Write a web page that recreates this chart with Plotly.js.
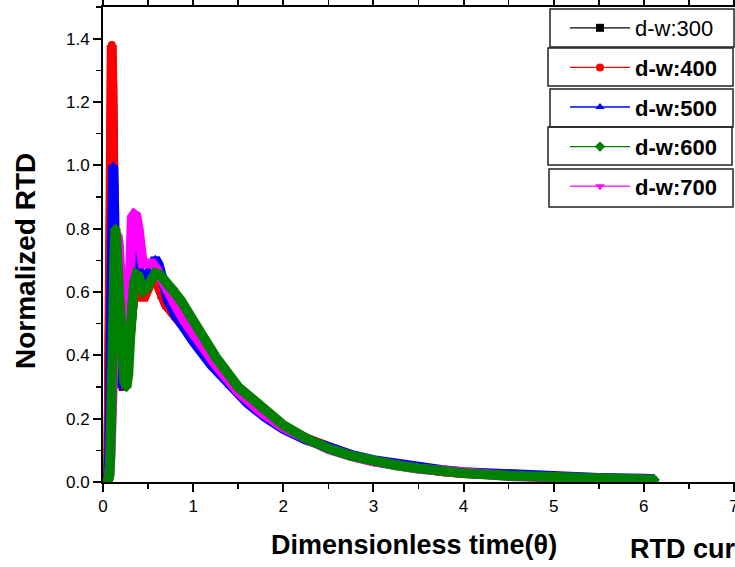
<!DOCTYPE html>
<html>
<head>
<meta charset="utf-8">
<script src="https://cdn.plot.ly/plotly-3.0.1.min.js"></script>
<style>
html,body{margin:0;padding:0;overflow:hidden;background:#fff;}
#chart{width:800px;height:567px;}
</style>
</head>
<body>
<div id="chart"></div>
<script>
// ---- data ----
const seriesNames = ["d-w:300", "d-w:400", "d-w:500", "d-w:600", "d-w:700"];

const theta300 = [0.03,0.05,0.06,0.066,0.072,0.077,0.082,0.086,0.09,0.094,0.098,0.102,0.106,0.11,0.115,0.121,0.128,0.138,0.155,0.185,0.22,0.25,0.28,0.31,0.34,0.37,0.4,0.43,0.46,0.5,0.55,0.6,0.65,0.7,0.8,0.9,1.0,1.2,1.4,1.6,1.8,2.0,2.25,2.5,2.75,3.0,3.25,3.5,3.75,4.0,4.5,5.0,5.5,6.0,6.1];
const rtd300   = [0,0.01,0.05,0.14,0.28,0.43,0.6,0.76,0.92,1.06,1.18,1.26,1.24,1.12,0.96,0.8,0.66,0.52,0.4,0.32,0.3,0.32,0.42,0.58,0.68,0.69,0.63,0.59,0.59,0.62,0.645,0.63,0.59,0.56,0.525,0.49,0.455,0.385,0.32,0.262,0.215,0.176,0.137,0.107,0.084,0.066,0.053,0.043,0.035,0.028,0.02,0.014,0.01,0.007,0.006];

const theta400 = [0.03,0.05,0.06,0.065,0.07,0.075,0.08,0.083,0.086,0.089,0.092,0.095,0.098,0.101,0.104,0.108,0.112,0.117,0.123,0.13,0.14,0.16,0.19,0.22,0.25,0.28,0.31,0.34,0.37,0.4,0.43,0.46,0.5,0.55,0.6,0.65,0.7,0.8,0.9,1.0,1.2,1.4,1.6,1.8,2.0,2.25,2.5,2.75,3.0,3.25,3.5,3.75,4.0,4.5,5.0,5.5,6.0,6.1];
const rtd400   = [0,0.01,0.06,0.15,0.3,0.45,0.62,0.78,0.94,1.08,1.22,1.33,1.38,1.36,1.28,1.14,0.98,0.84,0.7,0.58,0.48,0.38,0.32,0.3,0.32,0.42,0.58,0.68,0.69,0.63,0.585,0.585,0.62,0.645,0.63,0.59,0.56,0.525,0.49,0.455,0.385,0.32,0.262,0.215,0.176,0.138,0.107,0.084,0.066,0.053,0.043,0.035,0.028,0.02,0.014,0.01,0.007,0.006];

const theta500 = [0.04,0.06,0.07,0.078,0.085,0.09,0.095,0.1,0.104,0.108,0.112,0.116,0.12,0.125,0.13,0.137,0.145,0.16,0.18,0.21,0.24,0.27,0.3,0.33,0.355,0.38,0.41,0.44,0.48,0.53,0.58,0.62,0.67,0.72,0.8,0.9,1.0,1.2,1.4,1.6,1.8,2.0,2.25,2.5,2.75,3.0,3.25,3.5,3.75,4.0,4.5,5.0,5.5,6.0,6.12];
const rtd500   = [0,0.02,0.1,0.22,0.36,0.5,0.63,0.76,0.87,0.95,1.0,0.99,0.94,0.85,0.75,0.64,0.54,0.44,0.36,0.31,0.3,0.34,0.48,0.64,0.725,0.69,0.64,0.625,0.645,0.685,0.705,0.685,0.62,0.575,0.53,0.485,0.445,0.37,0.305,0.25,0.205,0.168,0.134,0.107,0.086,0.069,0.056,0.046,0.038,0.031,0.023,0.017,0.013,0.01,0.009];

const theta600 = [0.05,0.07,0.08,0.09,0.1,0.108,0.115,0.12,0.125,0.13,0.137,0.145,0.155,0.17,0.19,0.21,0.235,0.26,0.28,0.3,0.32,0.345,0.37,0.395,0.42,0.45,0.49,0.53,0.58,0.63,0.7,0.78,0.86,1.0,1.1,1.25,1.5,1.75,2.0,2.25,2.5,2.75,3.0,3.25,3.5,3.75,4.0,4.5,5.0,5.5,6.0,6.12];
const rtd600   = [0,0.02,0.08,0.16,0.26,0.38,0.5,0.6,0.7,0.77,0.8,0.78,0.72,0.62,0.5,0.4,0.32,0.3,0.34,0.45,0.56,0.63,0.655,0.65,0.625,0.605,0.615,0.64,0.66,0.655,0.63,0.61,0.575,0.51,0.465,0.395,0.3,0.235,0.18,0.138,0.106,0.083,0.066,0.053,0.043,0.035,0.028,0.02,0.015,0.011,0.008,0.007];

const theta700 = [0.05,0.07,0.085,0.1,0.115,0.13,0.145,0.16,0.175,0.19,0.21,0.235,0.255,0.275,0.29,0.305,0.32,0.345,0.37,0.395,0.415,0.44,0.5,0.55,0.6,0.65,0.7,0.8,0.9,1.0,1.1,1.25,1.5,1.75,2.0,2.25,2.5,2.75,3.0,3.5,4.0,4.5,5.0,5.5,6.0,6.1];
const rtd700   = [0,0.02,0.1,0.25,0.45,0.62,0.74,0.78,0.75,0.65,0.5,0.4,0.36,0.42,0.6,0.77,0.835,0.845,0.84,0.8,0.73,0.69,0.69,0.69,0.67,0.64,0.61,0.56,0.51,0.47,0.43,0.37,0.285,0.222,0.172,0.134,0.104,0.082,0.065,0.042,0.028,0.019,0.014,0.01,0.007,0.006];

const xTickVals = [0,1,2,3,4,5,6,7];
const yTickVals = [0,0.2,0.4,0.6,0.8,1.0,1.2,1.4];

// ---- styling ----
const FONT = "Arial, 'Liberation Sans', sans-serif";
const W = 800, H = 567, ML = 103, MR = 57, MT = 7, MB = 85;
const PW = W - ML - MR, PH = H - MT - MB;
const px2x = p => (p - ML) / PW;
const px2y = p => (H - MB - p) / PH;

const defs = [
  {name: seriesNames[0], x: theta300, y: rtd300, color: "#000000", symbol: "square", bold: false, rank: 1},
  {name: seriesNames[1], x: theta400, y: rtd400, color: "#ff0000", symbol: "circle", bold: true, rank: 2},
  {name: seriesNames[2], x: theta500, y: rtd500, color: "#0000ff", symbol: "triangle-up", bold: true, rank: 3},
  {name: seriesNames[4], x: theta700, y: rtd700, color: "#ff00ff", symbol: "triangle-down", bold: true, rank: 5},
  {name: seriesNames[3], x: theta600, y: rtd600, color: "#008000", symbol: "diamond", bold: true, rank: 4}
];

const traces = [];
defs.forEach(d => {
  traces.push({
    type: "scatter", mode: "lines", x: d.x, y: d.y,
    line: {color: d.color, width: 10},
    showlegend: false, hoverinfo: "skip", legendgroup: d.name, legendrank: d.rank
  });
  traces.push({
    type: "scatter", mode: "lines+markers", x: d.x, y: d.y,
    name: d.bold ? "<b>" + d.name + "</b>" : d.name,
    legendgroup: d.name, legendrank: d.rank,
    line: {color: d.color, width: 1.3},
    marker: {symbol: d.symbol, size: 8, color: d.color, line: {width: 0}}
  });
});

// separate legend boxes
const boxes = [[550,734,9,47],[548,733,48,86],[550,733,89,127],[548,732,127,165],[549,733,169,207]];
const shapes = boxes.map(b => ({
  type: "rect", xref: "paper", yref: "paper",
  x0: px2x(b[0]), x1: px2x(b[1]), y0: px2y(b[3]), y1: px2y(b[2]),
  line: {color: "#222", width: 1.5}, fillcolor: "rgba(0,0,0,0)", layer: "above"
}));

const axisCommon = {
  showline: true, linecolor: "#000", linewidth: 2, mirror: "ticks",
  ticks: "outside", ticklen: 8, tickwidth: 2, tickcolor: "#000",
  showgrid: false, zeroline: false,
  tickfont: {family: FONT, size: 17, color: "#000"}
};

const layout = {
  width: W, height: H,
  margin: {l: ML, r: MR, t: MT, b: MB, pad: 0},
  paper_bgcolor: "#fff", plot_bgcolor: "#fff",
  showlegend: true,
  legend: {
    x: px2x(565), y: px2y(7), xanchor: "left", yanchor: "top",
    bgcolor: "rgba(0,0,0,0)", borderwidth: 0,
    font: {family: FONT, size: 22, color: "#000"},
    itemwidth: 60, tracegroupgap: 8, traceorder: "grouped"
  },
  xaxis: Object.assign({}, axisCommon, {
    range: [0, 7.1], tickvals: xTickVals, ticktext: xTickVals.map(String),
    minor: {dtick: 0.5, ticks: "outside", ticklen: 5, tickwidth: 1.5, tickcolor: "#000", showgrid: false}
  }),
  yaxis: Object.assign({}, axisCommon, {
    range: [0, 1.5], tickvals: yTickVals, ticktext: yTickVals.map(v => v.toFixed(1)),
    minor: {dtick: 0.1, ticks: "outside", ticklen: 5, tickwidth: 1.5, tickcolor: "#000", showgrid: false}
  }),
  shapes: shapes,
  annotations: [
    {text: "<b>Dimensionless time(θ)</b>", xref: "paper", yref: "paper",
     x: px2x(413.5), y: px2y(545), xanchor: "center", yanchor: "middle", showarrow: false,
     font: {family: FONT, size: 27, color: "#000"}},
    {text: "<b>Normalized RTD</b>", xref: "paper", yref: "paper", textangle: -90,
     x: px2x(25), y: px2y(261), xanchor: "center", yanchor: "middle", showarrow: false,
     font: {family: FONT, size: 28, color: "#000"}},
    {text: "<b>RTD curves</b>", xref: "paper", yref: "paper",
     x: px2x(628), y: px2y(549), xanchor: "left", yanchor: "middle", showarrow: false,
     font: {family: FONT, size: 27, color: "#000"}}
  ]
};

Plotly.newPlot("chart", traces, layout, {displayModeBar: false, staticPlot: true});
</script>
</body>
</html>
